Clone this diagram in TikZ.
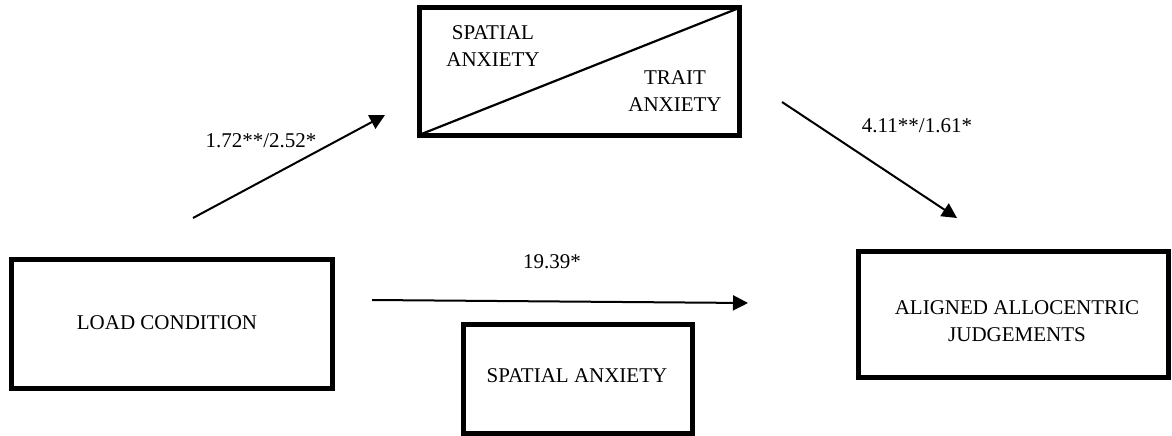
\documentclass[tikz,border=0pt]{standalone}
\usepackage{fontspec}
\setmainfont{Liberation Serif}
\usetikzlibrary{arrows.meta}
\begin{document}
\begin{tikzpicture}[x=1pt,y=-1pt,
  box/.style={draw=black,line width=5pt,outer sep=0pt,inner sep=0pt,fill=white},
  txt/.style={font=\fontsize{21}{27}\selectfont,align=center,inner sep=0pt},
  conn/.style={line width=2pt,-{Triangle[length=15pt,width=15pt]}}]
\useasboundingbox (0,0) rectangle (1172,436);
% boxes
\node[box,minimum width=320pt,minimum height=127pt] (top) at (579,71.5) {};
\draw[line width=2.2pt] (top.south west) -- (top.north east);
\node[txt] (sa1) at (493,46) {SPATIAL\\ANXIETY};
\node[txt] (ta) at (675,91) {TRAIT\\ANXIETY};
\node[box,minimum width=320.5pt,minimum height=129pt] (load) at (172,323.5) {};
\node[txt] (loadt) at (167,323) {LOAD CONDITION};
\node[box,minimum width=310pt,minimum height=126pt] (judg) at (1013,314) {};
\node[txt] (judgt) at (1017,321) {ALIGNED ALLOCENTRIC\\JUDGEMENTS};
\node[box,minimum width=229pt,minimum height=109pt] (sa2) at (577.5,378.5) {};
\node[txt] (sa2t) at (577,376) {SPATIAL ANXIETY};
% arrow end points
\coordinate (a1s) at (193,218);
\coordinate (a1e) at (385,115);
\coordinate (a2s) at (782,102);
\coordinate (a2e) at (957,218);
\coordinate (a3s) at (372,300);
\coordinate (a3e) at (748,303);
\draw[conn] (a1s) -- (a1e);
\draw[conn] (a2s) -- (a2e);
\draw[conn] (a3s) -- (a3e);
% labels
\node[txt] (l1) at (261,141) {1.72**/2.52*};
\node[txt] (l2) at (917,126) {4.11**/1.61*};
\node[txt] (l3) at (552,262) {19.39*};
\end{tikzpicture}
\end{document}
